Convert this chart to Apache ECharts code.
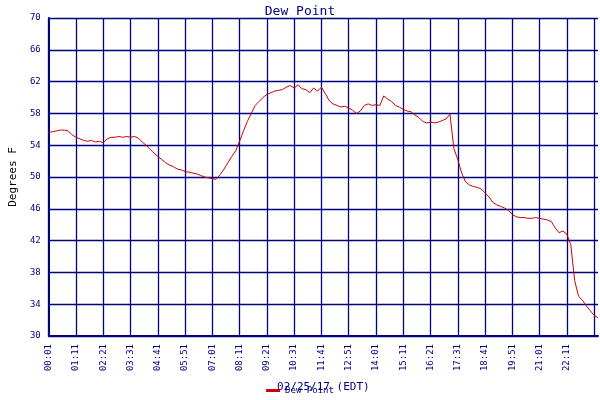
<!DOCTYPE html><html><head><meta charset="utf-8"><script src="https://cdn.jsdelivr.net/npm/echarts@6/dist/echarts.min.js"></script></head><body style="margin:0;background:#fff"><div id="c" style="width:600px;height:400px"></div><script>
const hours=[
[55.6,55.7,55.8,55.9,55.9,55.8],[55.3,55.0,54.8,54.6,54.5,54.6],[54.4,54.5,54.3,54.8,55.0,55.0],
[55.1,55.0,55.1,55.0,55.1,54.9],[54.4,54.0,53.5,53.0,52.6,52.2],[51.8,51.5,51.3,51.0,50.9,50.7],
[50.6,50.5,50.4,50.2,50.0,49.9],[49.8,49.7,50.3,51.0,51.8,52.6],[53.3,54.5,55.8,57.0,58.0,59.0],
[59.5,60.0,60.4,60.6,60.8,60.9],[61.0,61.3,61.5,61.2,61.6,61.1],[61.0,60.6,61.2,60.8,61.3,60.5],
[59.6,59.2,59.0,58.8,58.9,58.7],[58.4,58.0,58.3,59.0,59.2,59.0],[59.1,59.0,60.2,59.8,59.5,59.0],
[58.8,58.5,58.3,58.2,57.8,57.5],[57.0,56.8,56.9,56.8,56.9,57.1],[57.3,57.9,53.6,52.2,50.5,49.4],
[49.0,48.8,48.7,48.5,48.0,47.5],[46.8,46.5,46.3,46.1,45.8,45.3],[45.0,44.9,44.9,44.8,44.8,44.9],
[44.8,44.7,44.6,44.4,43.6,43.0],[43.2,42.8,41.5,37.0,35.0,34.5],[33.8,33.2,32.6,32.3]];
const categories=[],dewPoint=[];
hours.forEach((h,i)=>h.forEach((v,j)=>{categories.push(String(i).padStart(2,'0')+':'+String(j*10+1).padStart(2,'0'));dewPoint.push(v);}));
const navy='#000080',F='DejaVu Sans Mono';
echarts.init(document.getElementById('c')).setOption({animation:false,
title:{text:'Dew Point',left:'center',top:0,textStyle:{color:navy,fontFamily:F,fontSize:13,fontWeight:'normal'}},
legend:{bottom:0,itemWidth:14,itemHeight:3,icon:'rect',textStyle:{color:navy,fontFamily:F,fontSize:9}},
grid:{left:32,right:2,top:18,bottom:64},
xAxis:{type:'category',data:categories,boundaryGap:false,name:'02/25/17 (EDT)',nameLocation:'middle',nameGap:46,
nameTextStyle:{color:navy,fontFamily:F,fontSize:11},
axisLine:{lineStyle:{color:navy,width:2}},axisTick:{show:false},
axisLabel:{interval:6,rotate:90,color:navy,fontFamily:F,fontSize:9,showMaxLabel:false},
splitLine:{show:true,interval:6,lineStyle:{color:navy,width:1.3}}},
yAxis:{type:'value',min:30,max:70,interval:4,name:'Degrees F',nameLocation:'middle',nameGap:22,
nameTextStyle:{color:'#000',fontFamily:F,fontSize:11},
axisLine:{show:true,lineStyle:{color:navy,width:2}},axisTick:{show:false},
axisLabel:{color:navy,fontFamily:F,fontSize:9},splitLine:{lineStyle:{color:navy,width:1.3}}},
series:[{name:'Dew Point',type:'line',data:dewPoint,showSymbol:false,lineStyle:{color:'#cc0000',width:1},itemStyle:{color:'#cc0000'}}]
});
</script></body></html>
